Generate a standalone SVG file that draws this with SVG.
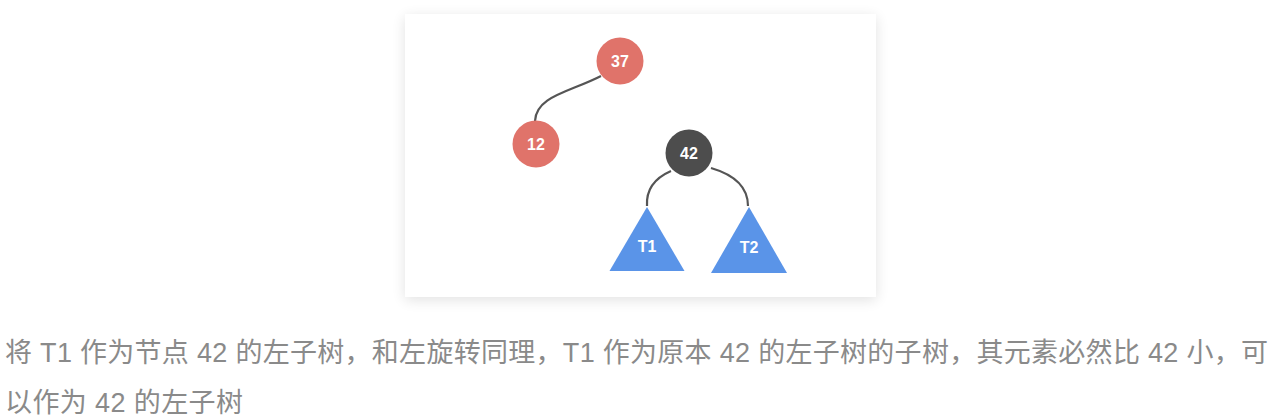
<svg xmlns="http://www.w3.org/2000/svg" width="1280" height="420" viewBox="0 0 1280 420">
<defs>
<filter id="sh" x="-10%" y="-10%" width="120%" height="125%">
<feGaussianBlur in="SourceAlpha" stdDeviation="7"/>
<feOffset dy="3" result="b"/>
<feComponentTransfer><feFuncA type="linear" slope="0.12"/></feComponentTransfer>
<feMerge><feMergeNode/><feMergeNode in="SourceGraphic"/></feMerge>
</filter>
<style>
.red{fill:#e0736a}
.dark{fill:#4d4d4d}
.tri{fill:#5a94e8}
.lbl{font-family:"Liberation Sans",Arial,sans-serif;font-weight:bold;font-size:16px;fill:#ffffff;text-anchor:middle}
.edge{fill:none;stroke:#555555;stroke-width:2.2}
.cap{font-family:"Liberation Sans","Noto Sans CJK SC",sans-serif;font-size:27px;fill:#8a8a8a}
</style>
</defs>
<rect width="1280" height="420" fill="#ffffff"/>
<rect x="405" y="14" width="471" height="283" fill="#ffffff" filter="url(#sh)"/>
<g id="connectors">
<path class="edge" d="M601,76 C570,92 536,96 535,121"/>
<path class="edge" d="M671,171 C655,178 646,190 647,206"/>
<path class="edge" d="M711,168 C735,175 748,188 748,206"/>
</g>
<g id="n37"><circle class="red" cx="620" cy="61" r="23.5"/><text class="lbl" x="620" y="66.5">37</text></g>
<g id="n12"><circle class="red" cx="536" cy="144" r="23.5"/><text class="lbl" x="536" y="149.5">12</text></g>
<g id="n42"><circle class="dark" cx="689" cy="153" r="23.5"/><text class="lbl" x="689" y="158.5">42</text></g>
<g id="t1"><polygon class="tri" points="647,207 684.5,271 609.5,271"/><text class="lbl" x="647" y="252">T1</text></g>
<g id="t2"><polygon class="tri" points="749,207 787,273 711,273"/><text class="lbl" x="749" y="253">T2</text></g>
<text class="cap" x="5" y="362" textLength="1263" lengthAdjust="spacing">将 T1 作为节点 42 的左子树，和左旋转同理，T1 作为原本 42 的左子树的子树，其元素必然比 42 小，可</text>
<text class="cap" x="5" y="412" textLength="238" lengthAdjust="spacing">以作为 42 的左子树</text>
</svg>
